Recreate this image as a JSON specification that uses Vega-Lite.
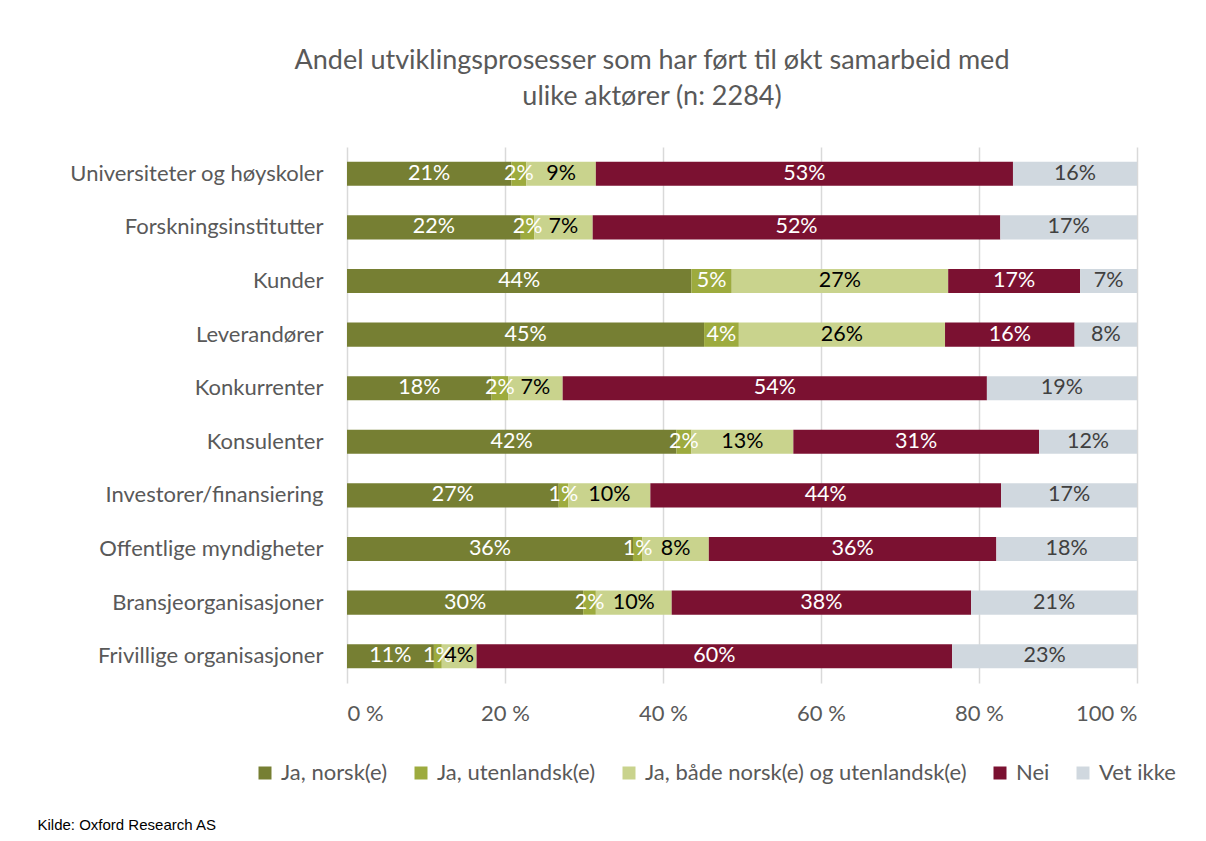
{
  "$schema": "https://vega.github.io/schema/vega-lite/v6.json",
  "width": 790,
  "height": 536,
  "autosize": {"type": "none"},
  "padding": {"left": 347, "top": 147, "right": 69, "bottom": 158},
  "background": "white",
  "config": {"view": {"stroke": null}},
  "title": {
    "text": ["Andel utviklingsprosesser som har ført til økt samarbeid med", "ulike aktører (n: 2284)"],
    "font": "Lato", "fontSize": 27, "fontWeight": "normal", "color": "#595959",
    "lineHeight": 36, "anchor": "middle", "dx": -90, "offset": 36
  },
  "data": {"values": [
    {"cat": "Universiteter og høyskoler", "resp": "Ja, norsk(e)", "o": 1, "v": 0.208},
    {"cat": "Universiteter og høyskoler", "resp": "Ja, utenlandsk(e)", "o": 2, "v": 0.019},
    {"cat": "Universiteter og høyskoler", "resp": "Ja, både norsk(e) og utenlandsk(e)", "o": 3, "v": 0.088},
    {"cat": "Universiteter og høyskoler", "resp": "Nei", "o": 4, "v": 0.528},
    {"cat": "Universiteter og høyskoler", "resp": "Vet ikke", "o": 5, "v": 0.157},
    {"cat": "Forskningsinstitutter", "resp": "Ja, norsk(e)", "o": 1, "v": 0.220},
    {"cat": "Forskningsinstitutter", "resp": "Ja, utenlandsk(e)", "o": 2, "v": 0.017},
    {"cat": "Forskningsinstitutter", "resp": "Ja, både norsk(e) og utenlandsk(e)", "o": 3, "v": 0.074},
    {"cat": "Forskningsinstitutter", "resp": "Nei", "o": 4, "v": 0.516},
    {"cat": "Forskningsinstitutter", "resp": "Vet ikke", "o": 5, "v": 0.173},
    {"cat": "Kunder", "resp": "Ja, norsk(e)", "o": 1, "v": 0.436},
    {"cat": "Kunder", "resp": "Ja, utenlandsk(e)", "o": 2, "v": 0.051},
    {"cat": "Kunder", "resp": "Ja, både norsk(e) og utenlandsk(e)", "o": 3, "v": 0.274},
    {"cat": "Kunder", "resp": "Nei", "o": 4, "v": 0.167},
    {"cat": "Kunder", "resp": "Vet ikke", "o": 5, "v": 0.072},
    {"cat": "Leverandører", "resp": "Ja, norsk(e)", "o": 1, "v": 0.452},
    {"cat": "Leverandører", "resp": "Ja, utenlandsk(e)", "o": 2, "v": 0.044},
    {"cat": "Leverandører", "resp": "Ja, både norsk(e) og utenlandsk(e)", "o": 3, "v": 0.261},
    {"cat": "Leverandører", "resp": "Nei", "o": 4, "v": 0.164},
    {"cat": "Leverandører", "resp": "Vet ikke", "o": 5, "v": 0.079},
    {"cat": "Konkurrenter", "resp": "Ja, norsk(e)", "o": 1, "v": 0.183},
    {"cat": "Konkurrenter", "resp": "Ja, utenlandsk(e)", "o": 2, "v": 0.021},
    {"cat": "Konkurrenter", "resp": "Ja, både norsk(e) og utenlandsk(e)", "o": 3, "v": 0.069},
    {"cat": "Konkurrenter", "resp": "Nei", "o": 4, "v": 0.537},
    {"cat": "Konkurrenter", "resp": "Vet ikke", "o": 5, "v": 0.190},
    {"cat": "Konsulenter", "resp": "Ja, norsk(e)", "o": 1, "v": 0.417},
    {"cat": "Konsulenter", "resp": "Ja, utenlandsk(e)", "o": 2, "v": 0.019},
    {"cat": "Konsulenter", "resp": "Ja, både norsk(e) og utenlandsk(e)", "o": 3, "v": 0.129},
    {"cat": "Konsulenter", "resp": "Nei", "o": 4, "v": 0.311},
    {"cat": "Konsulenter", "resp": "Vet ikke", "o": 5, "v": 0.124},
    {"cat": "Investorer/finansiering", "resp": "Ja, norsk(e)", "o": 1, "v": 0.268},
    {"cat": "Investorer/finansiering", "resp": "Ja, utenlandsk(e)", "o": 2, "v": 0.012},
    {"cat": "Investorer/finansiering", "resp": "Ja, både norsk(e) og utenlandsk(e)", "o": 3, "v": 0.104},
    {"cat": "Investorer/finansiering", "resp": "Nei", "o": 4, "v": 0.444},
    {"cat": "Investorer/finansiering", "resp": "Vet ikke", "o": 5, "v": 0.172},
    {"cat": "Offentlige myndigheter", "resp": "Ja, norsk(e)", "o": 1, "v": 0.362},
    {"cat": "Offentlige myndigheter", "resp": "Ja, utenlandsk(e)", "o": 2, "v": 0.012},
    {"cat": "Offentlige myndigheter", "resp": "Ja, både norsk(e) og utenlandsk(e)", "o": 3, "v": 0.084},
    {"cat": "Offentlige myndigheter", "resp": "Nei", "o": 4, "v": 0.364},
    {"cat": "Offentlige myndigheter", "resp": "Vet ikke", "o": 5, "v": 0.178},
    {"cat": "Bransjeorganisasjoner", "resp": "Ja, norsk(e)", "o": 1, "v": 0.299},
    {"cat": "Bransjeorganisasjoner", "resp": "Ja, utenlandsk(e)", "o": 2, "v": 0.016},
    {"cat": "Bransjeorganisasjoner", "resp": "Ja, både norsk(e) og utenlandsk(e)", "o": 3, "v": 0.096},
    {"cat": "Bransjeorganisasjoner", "resp": "Nei", "o": 4, "v": 0.379},
    {"cat": "Bransjeorganisasjoner", "resp": "Vet ikke", "o": 5, "v": 0.210},
    {"cat": "Frivillige organisasjoner", "resp": "Ja, norsk(e)", "o": 1, "v": 0.110},
    {"cat": "Frivillige organisasjoner", "resp": "Ja, utenlandsk(e)", "o": 2, "v": 0.010},
    {"cat": "Frivillige organisasjoner", "resp": "Ja, både norsk(e) og utenlandsk(e)", "o": 3, "v": 0.044},
    {"cat": "Frivillige organisasjoner", "resp": "Nei", "o": 4, "v": 0.602},
    {"cat": "Frivillige organisasjoner", "resp": "Vet ikke", "o": 5, "v": 0.234}
  ]},
  "encoding": {
    "y": {
      "field": "cat", "type": "nominal", "sort": null,
      "scale": {"paddingInner": 0.55, "paddingOuter": 0.275},
      "axis": {"title": null, "domain": false, "ticks": false, "grid": false,
        "labelFont": "Lato", "labelFontSize": 22, "labelColor": "#595959", "labelPadding": 24, "labelLimit": 400}
    },
    "order": {"field": "o", "type": "quantitative"}
  },
  "layer": [
    {
      "mark": {"type": "bar"},
      "encoding": {
        "x": {
          "field": "v", "type": "quantitative", "stack": "zero",
          "scale": {"domain": [0, 1], "nice": false},
          "axis": {
            "values": [0, 0.2, 0.4, 0.6, 0.8, 1],
            "labelExpr": "replace(format(datum.value, '.0%'), '%', ' %')",
            "grid": true, "gridColor": "#d9d9d9", "gridWidth": 1.5,
            "domain": false, "ticks": false,
            "labelFont": "Lato", "labelFontSize": 22, "labelColor": "#595959", "labelPadding": 20,
            "title": "Kilde: Oxford Research AS",
            "titleFont": "Liberation Sans", "titleFontSize": 15, "titleFontWeight": "normal", "titleColor": "#000000",
            "titleX": -310, "titleY": 146, "titleAlign": "left", "titleBaseline": "alphabetic"
          }
        },
        "color": {
          "field": "resp", "type": "nominal",
          "scale": {
            "domain": ["Ja, norsk(e)", "Ja, utenlandsk(e)", "Ja, både norsk(e) og utenlandsk(e)", "Nei", "Vet ikke"],
            "range": ["#767f33", "#9dab3e", "#c9d38d", "#7b1131", "#d0d8df"]
          },
          "legend": {
            "orient": "none", "legendX": -93, "legendY": 615, "direction": "horizontal",
            "title": null, "symbolType": "square", "symbolSize": 169, "symbolStrokeWidth": 0,
            "labelFont": "Lato", "labelFontSize": 22, "labelColor": "#595959",
            "columnPadding": 22, "labelOffset": 5, "padding": 0, "labelLimit": 500
          }
        }
      }
    },
    {
      "mark": {"type": "text", "font": "Lato", "fontSize": 21.5, "baseline": "middle", "align": "center"},
      "encoding": {
        "x": {"field": "v", "type": "quantitative", "stack": "zero", "bandPosition": 0.5},
        "text": {"field": "v", "type": "quantitative", "format": ".0%"},
        "color": {
          "condition": [
            {"test": "datum.resp === 'Ja, både norsk(e) og utenlandsk(e)'", "value": "#000000"},
            {"test": "datum.resp === 'Vet ikke'", "value": "#404040"}
          ],
          "value": "#ffffff"
        }
      }
    }
  ]
}
